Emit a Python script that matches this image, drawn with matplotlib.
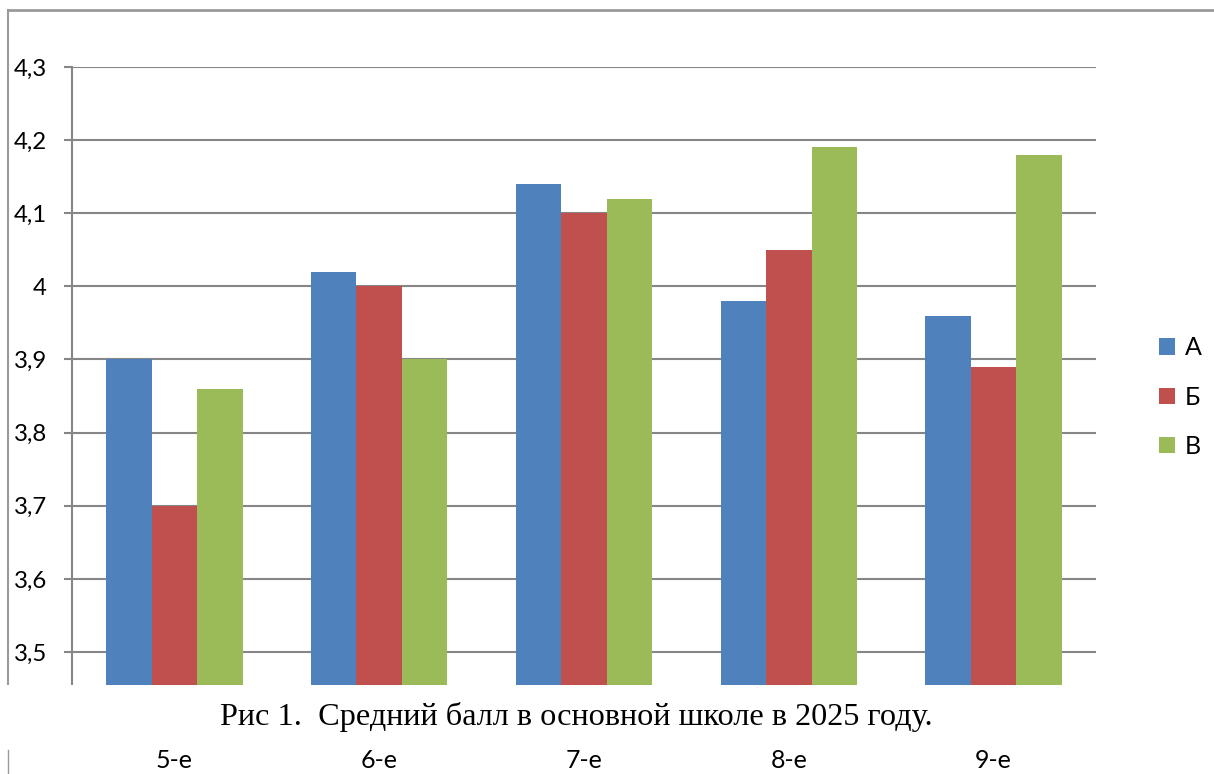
import numpy as np
import matplotlib
matplotlib.use('Agg')
import matplotlib.pyplot as plt
from matplotlib.lines import Line2D
from matplotlib.patches import Rectangle
from matplotlib.ticker import FuncFormatter, MultipleLocator

grades = ['5-е', '6-е', '7-е', '8-е', '9-е']
series_names = ['А', 'Б', 'В']
vals_a = [3.90, 4.02, 4.14, 3.98, 3.96]
vals_b = [3.70, 4.00, 4.10, 4.05, 3.89]
vals_v = [3.86, 3.90, 4.12, 4.19, 4.18]
colors = ['#4F81BD', '#C0504D', '#9BBB59']
caption = 'Рис 1.  Средний балл в основной школе в 2025 году.'

W, H = 1214, 774
fig = plt.figure(figsize=(W / 100, H / 100), dpi=100)

# plot area in pixels: x 72..1096, y 67..685
ax = fig.add_axes([72 / W, 1 - 685 / H, (1096 - 72) / W, (685 - 67) / H])

x = np.arange(len(grades))
bw = 0.222
for i, (vals, name) in enumerate(zip([vals_a, vals_b, vals_v], series_names)):
    ax.bar(x + (i - 1) * bw, vals, width=bw, color=colors[i], label=name, zorder=2)

ax.set_xlim(-0.5, len(grades) - 0.5)
ax.set_ylim(3.5 - 33 / 731, 4.3)
ax.yaxis.set_major_locator(MultipleLocator(0.1))
ax.yaxis.set_major_formatter(FuncFormatter(
    lambda v, p: ('%g' % round(v, 1)).replace('.', ',')))
ax.grid(axis='y', color='#868686', linewidth=1.5, zorder=1)
for s in ['top', 'right', 'bottom']:
    ax.spines[s].set_visible(False)
ax.spines['left'].set_color('#868686')
ax.spines['left'].set_linewidth(1.5)
ax.tick_params(axis='y', length=6, width=1.5, color='#868686', pad=12,
               labelsize=17.3, labelfontfamily='Lato')
ax.set_xticks(x)
ax.set_xticklabels(grades, fontsize=18, fontfamily='Lato')
ax.tick_params(axis='x', length=0, pad=46)

leg = ax.legend(loc='center left', bbox_to_anchor=(1.04, 0.466), frameon=False,
                prop={'family': 'Lato', 'size': 18}, handlelength=0.62,
                handleheight=0.62, labelspacing=1.05, handletextpad=0.4)

# chart frame (top + left border)
fig.add_artist(Line2D([8 / W, 1], [1 - 10 / H, 1 - 10 / H], color='#9a9a9a', lw=2))
fig.add_artist(Line2D([8 / W, 8 / W], [1 - 10 / H, 1 - 685 / H], color='#9a9a9a', lw=1.5))
fig.add_artist(Line2D([8 / W, 8 / W], [1 - 750 / H, 0], color='#9a9a9a', lw=1))

# white caption band over the chart
fig.add_artist(Rectangle((0, 1 - 745 / H), 1, 60 / H, transform=fig.transFigure,
                         facecolor='white', edgecolor='none', zorder=5))
fig.text(576 / W, 1 - 717 / H, caption, ha='center', va='center', fontsize=23.2,
         fontfamily='Liberation Serif', zorder=6)

fig.savefig('out.png', dpi=100)
